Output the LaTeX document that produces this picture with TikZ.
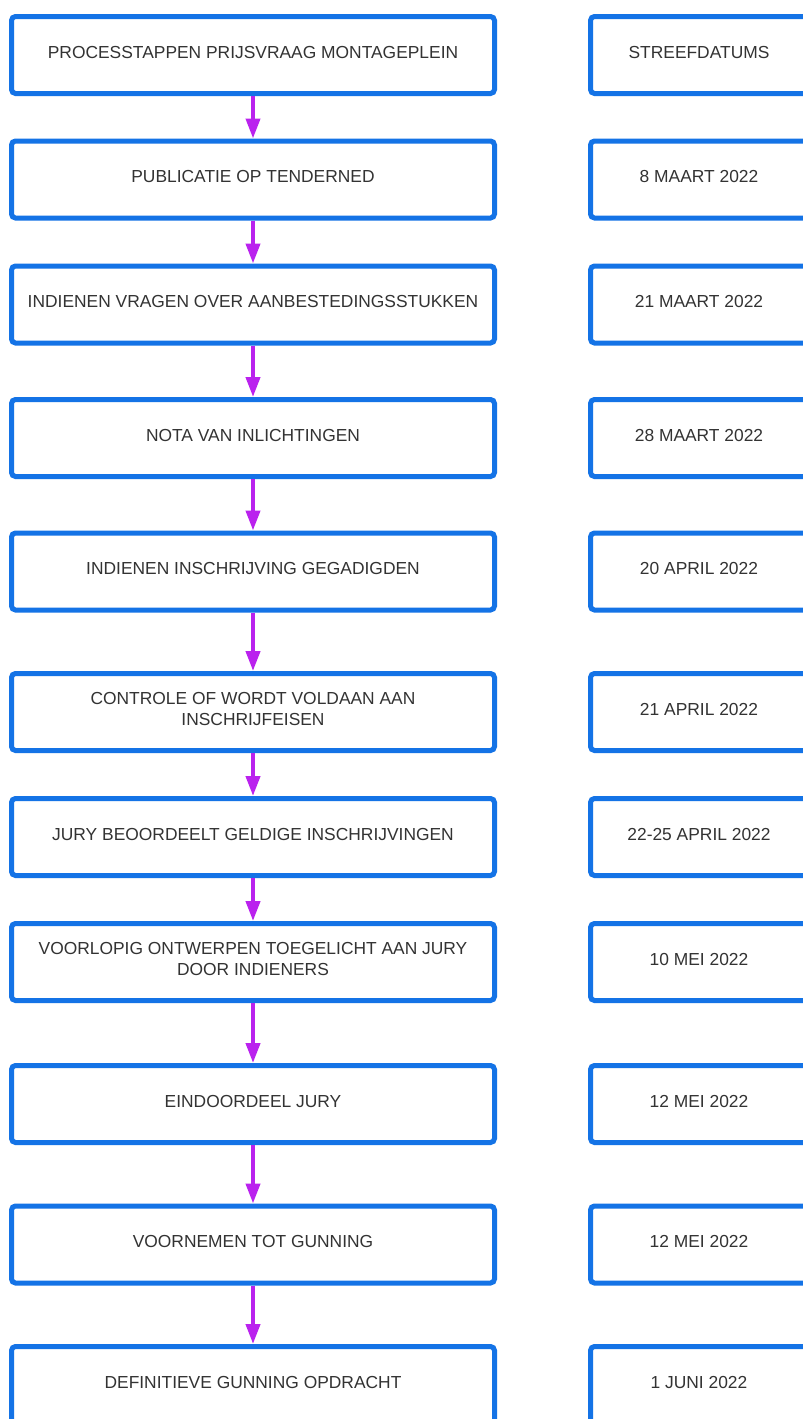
\documentclass[tikz,border=0pt]{standalone}
\usepackage{fontspec}
\setmainfont{Liberation Sans}
\usepackage{xcolor}
\usetikzlibrary{arrows.meta,positioning}

\definecolor{boxblue}{HTML}{1473E6}
\definecolor{steppurple}{HTML}{BA22EE}
\definecolor{txtgray}{HTML}{333333}

\tikzset{
  stepbox/.style={draw=boxblue,line width=5pt,rounded corners=4pt,fill=white,
    minimum width=483pt,minimum height=77pt,inner sep=2pt,align=center,
    text=txtgray,text depth=6pt,font=\fontsize{17.4}{21}\selectfont},
  datebox/.style={stepbox,minimum width=217pt},
  flow/.style={steppurple,line width=4pt,-{Triangle[width=14pt,length=20pt]}}
}

\begin{document}
\begin{tikzpicture}[x=1pt,y=-1pt]
	\useasboundingbox (0,0) rectangle (803,1419);
	\clip (0,0) rectangle (803,1419);
	\fill[white] (0,0) rectangle (803,1419);
	% process steps
	\node[stepbox] (s1) at (253,55) {PROCESSTAPPEN PRIJSVRAAG MONTAGEPLEIN};
	\node[stepbox] (s2) at (253,179.5) {PUBLICATIE OP TENDERNED};
	\node[stepbox] (s3) at (253,304.5) {INDIENEN VRAGEN OVER AANBESTEDINGSSTUKKEN};
	\node[stepbox] (s4) at (253,438) {NOTA VAN INLICHTINGEN};
	\node[stepbox] (s5) at (253,571.5) {INDIENEN INSCHRIJVING GEGADIGDEN};
	\node[stepbox] (s6) at (253,712) {CONTROLE OF WORDT VOLDAAN AAN\\INSCHRIJFEISEN};
	\node[stepbox] (s7) at (253,837) {JURY BEOORDEELT GELDIGE INSCHRIJVINGEN};
	\node[stepbox] (s8) at (253,962) {VOORLOPIG ONTWERPEN TOEGELICHT AAN JURY\\DOOR INDIENERS};
	\node[stepbox] (s9) at (253,1104) {EINDOORDEEL JURY};
	\node[stepbox] (s10) at (253,1244.5) {VOORNEMEN TOT GUNNING};
	\node[stepbox] (s11) at (253,1385) {DEFINITIEVE GUNNING OPDRACHT};
	% dates
	\node[datebox] (d1) at (699,55) {STREEFDATUMS};
	\node[datebox] (d2) at (699,179.5) {8 MAART 2022};
	\node[datebox] (d3) at (699,304.5) {21 MAART 2022};
	\node[datebox] (d4) at (699,438) {28 MAART 2022};
	\node[datebox] (d5) at (699,571.5) {20 APRIL 2022};
	\node[datebox] (d6) at (699,712) {21 APRIL 2022};
	\node[datebox] (d7) at (699,837) {22-25 APRIL 2022};
	\node[datebox] (d8) at (699,962) {10 MEI 2022};
	\node[datebox] (d9) at (699,1104) {12 MEI 2022};
	\node[datebox] (d10) at (699,1244.5) {12 MEI 2022};
	\node[datebox] (d11) at (699,1385) {1 JUNI 2022};
	% arrows
	\draw[flow] (s1) -- (s2);
	\draw[flow] (s2) -- (s3);
	\draw[flow] (s3) -- (s4);
	\draw[flow] (s4) -- (s5);
	\draw[flow] (s5) -- (s6);
	\draw[flow] (s6) -- (s7);
	\draw[flow] (s7) -- (s8);
	\draw[flow] (s8) -- (s9);
	\draw[flow] (s9) -- (s10);
	\draw[flow] (s10) -- (s11);
\end{tikzpicture}
\end{document}
